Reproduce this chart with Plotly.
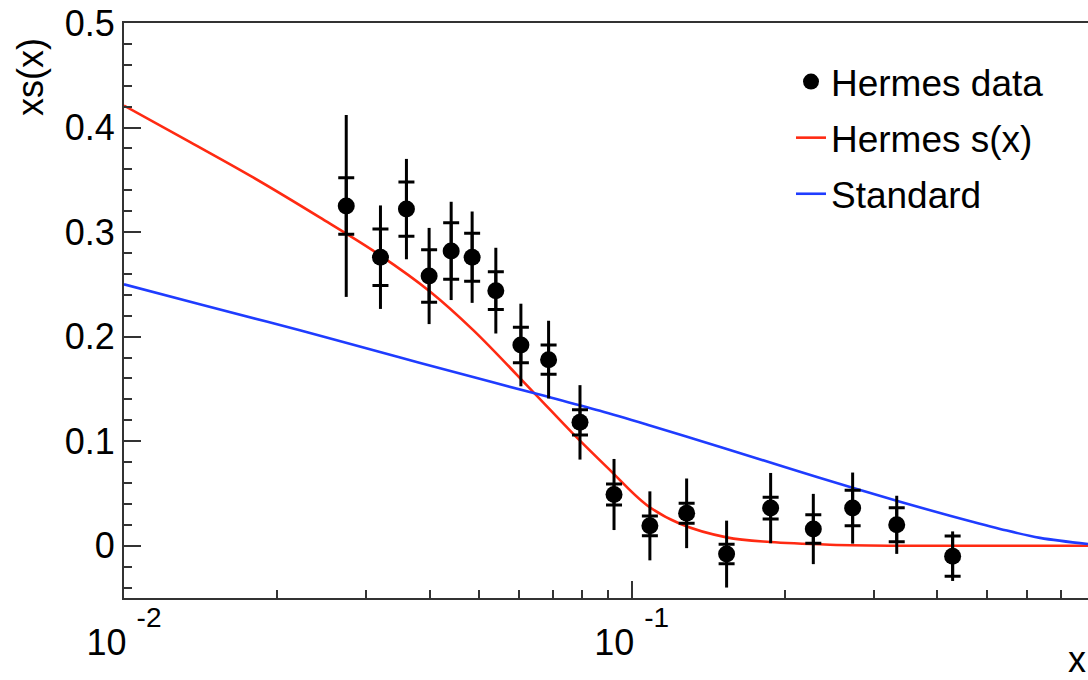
import plotly.graph_objects as go

# ---- data ----
data_x = [0.0274, 0.0320, 0.0360, 0.0399, 0.0441, 0.0485, 0.0540, 0.0605, 0.0686, 0.0791,
          0.0923, 0.1086, 0.1283, 0.1538, 0.1878, 0.2279, 0.2724, 0.3327, 0.4287]
data_y = [0.325, 0.276, 0.322, 0.258, 0.282, 0.276, 0.244, 0.192, 0.178, 0.118,
          0.049, 0.019, 0.031, -0.008, 0.036, 0.016, 0.036, 0.020, -0.010]
stat_err = [0.027, 0.027, 0.026, 0.025, 0.027, 0.023, 0.018, 0.017, 0.014, 0.012,
            0.010, 0.0095, 0.0096, 0.0093, 0.0104, 0.0136, 0.017, 0.0163, 0.0193]
total_err = [0.087, 0.0495, 0.048, 0.046, 0.047, 0.0437, 0.041, 0.0395, 0.0372, 0.0356,
             0.034, 0.033, 0.0333, 0.032, 0.0336, 0.0336, 0.034, 0.0278, 0.0237]

hermes_x = [0.0100, 0.0135, 0.0180, 0.0243, 0.0319, 0.0401, 0.0488, 0.0640, 0.0767, 0.0899,
            0.1070, 0.1245, 0.1538, 0.1873, 0.2458, 0.3377, 0.5315, 0.7921]
hermes_y = [0.421, 0.386, 0.352, 0.314, 0.278, 0.243, 0.206, 0.147, 0.107, 0.074,
            0.039, 0.021, 0.008, 0.0035, 0.001, 0.0, 0.0, 0.0]

std_x = [0.0100, 0.0141, 0.0222, 0.0350, 0.0526, 0.0690, 0.0866, 0.1086, 0.1363, 0.1710,
         0.2145, 0.2692, 0.3377, 0.4236, 0.5315, 0.6370, 0.7921]
std_y = [0.250, 0.231, 0.206, 0.180, 0.157, 0.142, 0.129, 0.115, 0.1005, 0.0856,
         0.0708, 0.0562, 0.0420, 0.0286, 0.0161, 0.0075, 0.0017]

y_ticks = [0, 0.1, 0.2, 0.3, 0.4, 0.5]
y_tick_text = ["0", "0.1", "0.2", "0.3", "0.4", "0.5"]
x_major = [0.01, 0.1]
x_major_text = ["10 <span style='font-size:28px;baseline-shift:28px'>-2</span>",
                "10 <span style='font-size:28px;baseline-shift:28px'>-1</span>"]
x_minor = [0.02, 0.03, 0.04, 0.05, 0.06, 0.07, 0.08, 0.09, 0.2, 0.3, 0.4, 0.5, 0.6, 0.7]

FONT = "Liberation Sans, Arial, Helvetica, sans-serif"
RED = "#ff2a12"
BLUE = "#1f3cff"

fig = go.Figure()

fig.add_trace(go.Scatter(
    x=hermes_x, y=hermes_y, mode="lines", name="Hermes s(x)",
    line=dict(color=RED, width=2.6, shape="spline", smoothing=1.0),
    legendgroup="b", legendrank=2))
fig.add_trace(go.Scatter(
    x=std_x, y=std_y, mode="lines", name="Standard",
    line=dict(color=BLUE, width=2.6, shape="spline", smoothing=1.0),
    legendgroup="c", legendrank=3))

# total error bars (no caps)
fig.add_trace(go.Scatter(
    x=data_x, y=data_y, mode="markers", showlegend=False, hoverinfo="skip",
    marker=dict(size=1, color="rgba(0,0,0,0)"),
    error_y=dict(type="data", array=total_err, visible=True, color="black",
                 thickness=3, width=0)))
# statistical error bars (caps) + markers
fig.add_trace(go.Scatter(
    x=data_x, y=data_y, mode="markers", name="Hermes data",
    marker=dict(size=17, color="black"),
    error_y=dict(type="data", array=stat_err, visible=True, color="black",
                 thickness=3, width=8),
    legendgroup="a", legendrank=1))

axis_color = "#333333"
fig.update_xaxes(
    type="log", range=[-2, -0.1012], automargin=False,
    showline=True, linecolor=axis_color, linewidth=2, mirror=True,
    showgrid=False, zeroline=False,
    tickmode="array", tickvals=x_major, ticktext=x_major_text,
    ticks="inside", ticklen=17, tickwidth=2, tickcolor=axis_color,
    ticklabelstandoff=12,
    tickfont=dict(family=FONT, size=36, color="black"),
    minor=dict(tickmode="array", tickvals=x_minor, ticks="inside", ticklen=8,
               tickwidth=1.5, tickcolor=axis_color, showgrid=False),
)
fig.update_yaxes(
    range=[-0.05, 0.5], automargin=False,
    showline=True, linecolor=axis_color, linewidth=2, mirror=False,
    showgrid=False, zeroline=False,
    tickmode="array", tickvals=y_ticks, ticktext=y_tick_text,
    ticks="inside", ticklen=17, tickwidth=2, tickcolor=axis_color,
    tickfont=dict(family=FONT, size=36, color="black"),
    minor=dict(dtick=0.02, tick0=0, ticks="inside", ticklen=8, tickwidth=1.5,
               tickcolor=axis_color, showgrid=False),
)

fig.add_annotation(text="xs(x)", xref="paper", yref="paper",
                   x=(30 - 124) / 964, y=(598 - 77) / 575, textangle=-90,
                   showarrow=False, xanchor="center", yanchor="middle",
                   font=dict(family=FONT, size=36, color="black"))
fig.add_annotation(text="x", xref="paper", yref="paper",
                   x=(1077 - 124) / 964, y=(598 - 659) / 575,
                   showarrow=False, xanchor="center", yanchor="middle",
                   font=dict(family=FONT, size=36, color="black"))

fig.update_layout(
    width=1088, height=680,
    margin=dict(l=124, r=0, t=23, b=82),
    paper_bgcolor="white", plot_bgcolor="white",
    showlegend=True,
    legend=dict(x=(791 - 124) / 964, y=(598 - 51) / 575, xanchor="left", yanchor="top",
                bgcolor="rgba(0,0,0,0)", borderwidth=0,
                font=dict(family=FONT, size=37, color="black"),
                traceorder="grouped", tracegroupgap=5),
)

fig.write_html(
    "out.html",
    config={"displayModeBar": False},
    post_script="document.body.style.margin='0px';document.body.style.padding='0px';"
                "document.documentElement.style.overflow='hidden';",
)
